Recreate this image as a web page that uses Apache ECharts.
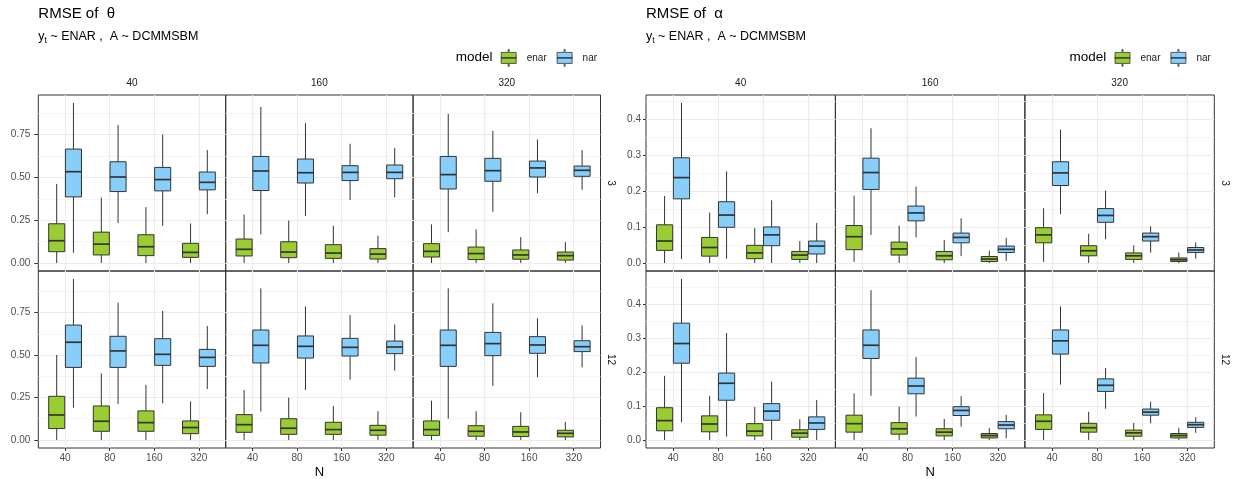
<!DOCTYPE html>
<html><head><meta charset="utf-8">
<script src="https://cdn.jsdelivr.net/npm/echarts@6/dist/echarts.min.js"></script>
<style>html,body{margin:0;padding:0;background:#fff}#c{width:1238px;height:479px}</style>
</head><body><div id="c"></div><script>
// ---------- categories & ticks ----------
const N_LABELS = ['40', '80', '160', '320'];
const N_POS = [1, 2, 3, 4];
const COL_FACETS = ['40', '160', '320'];
const ROW_FACETS = ['3', '12'];
const MODELS = ['enar', 'nar'];
const THETA_TICKS = [0, 0.25, 0.5, 0.75];
const THETA_TICK_LABELS = ['0.00', '0.25', '0.50', '0.75'];
const THETA_MINOR = [0.125, 0.375, 0.625, 0.875];
const ALPHA_TICKS = [0, 0.1, 0.2, 0.3, 0.4];
const ALPHA_TICK_LABELS = ['0.0', '0.1', '0.2', '0.3', '0.4'];
const ALPHA_MINOR = [0.05, 0.15, 0.25, 0.35, 0.45];

// ---------- data: [lower whisker, Q1, median, Q3, upper whisker] for N = 40, 80, 160, 320 ----------
// RMSE of theta, row facet 3
const theta_r3_c40_enar  = [[0,0.066,0.130,0.229,0.462],[0,0.047,0.110,0.180,0.382],[0,0.043,0.095,0.165,0.326],[0,0.033,0.062,0.115,0.231]];
const theta_r3_c40_nar   = [[0.060,0.386,0.533,0.665,0.934],[0.233,0.417,0.502,0.591,0.806],[0.217,0.421,0.487,0.558,0.750],[0.285,0.427,0.471,0.531,0.659]];
const theta_r3_c160_enar = [[0,0.041,0.080,0.140,0.283],[0,0.031,0.064,0.124,0.248],[0,0.027,0.058,0.107,0.217],[0,0.023,0.052,0.084,0.159]];
const theta_r3_c160_nar  = [[0.167,0.423,0.537,0.622,0.911],[0.275,0.467,0.527,0.607,0.816],[0.368,0.481,0.529,0.568,0.696],[0.384,0.492,0.529,0.572,0.671]];
const theta_r3_c320_enar = [[0,0.035,0.068,0.113,0.225],[0,0.020,0.055,0.093,0.196],[0,0.022,0.047,0.076,0.151],[0,0.017,0.043,0.064,0.122]];
const theta_r3_c320_nar  = [[0.180,0.432,0.516,0.622,0.870],[0.299,0.477,0.539,0.611,0.772],[0.407,0.502,0.555,0.595,0.721],[0.427,0.506,0.541,0.566,0.659]];
// RMSE of theta, row facet 12
const theta_r12_c40_enar  = [[0,0.067,0.147,0.257,0.500],[0,0.051,0.110,0.200,0.392],[0,0.051,0.102,0.171,0.324],[0,0.037,0.073,0.112,0.227]];
const theta_r12_c40_nar   = [[0.190,0.427,0.575,0.676,0.947],[0.212,0.427,0.524,0.610,0.808],[0.216,0.439,0.504,0.596,0.759],[0.300,0.433,0.486,0.533,0.671]];
const theta_r12_c160_enar = [[0,0.045,0.090,0.149,0.294],[0,0.033,0.069,0.125,0.249],[0,0.033,0.061,0.104,0.200],[0,0.028,0.057,0.086,0.169]];
const theta_r12_c160_nar  = [[0.167,0.453,0.557,0.647,0.892],[0.294,0.482,0.551,0.612,0.786],[0.355,0.494,0.545,0.598,0.735],[0.408,0.508,0.547,0.582,0.680]];
const theta_r12_c320_enar = [[0,0.027,0.061,0.112,0.231],[0,0.022,0.051,0.084,0.169],[0,0.020,0.047,0.080,0.163],[0,0.018,0.039,0.057,0.106]];
const theta_r12_c320_nar  = [[0.125,0.433,0.557,0.647,0.892],[0.318,0.496,0.567,0.633,0.804],[0.369,0.510,0.559,0.608,0.716],[0.427,0.520,0.549,0.584,0.675]];
// RMSE of alpha, row facet 3
const alpha_r3_c40_enar  = [[0,0.035,0.061,0.106,0.186],[0,0.019,0.043,0.071,0.140],[0,0.012,0.028,0.049,0.097],[0,0.010,0.022,0.032,0.061]];
const alpha_r3_c40_nar   = [[0.011,0.178,0.237,0.292,0.444],[0.012,0.099,0.133,0.170,0.254],[0,0.048,0.078,0.100,0.174],[0,0.025,0.047,0.061,0.111]];
const alpha_r3_c160_enar = [[0.003,0.037,0.073,0.104,0.187],[0,0.022,0.039,0.058,0.104],[0,0.009,0.020,0.032,0.064],[0,0.004,0.011,0.018,0.034]];
const alpha_r3_c160_nar  = [[0.078,0.204,0.251,0.291,0.374],[0.071,0.117,0.139,0.158,0.212],[0.019,0.056,0.071,0.083,0.124],[0.006,0.029,0.038,0.047,0.070]];
const alpha_r3_c320_enar = [[0.003,0.056,0.078,0.098,0.152],[0,0.020,0.034,0.048,0.081],[0,0.010,0.020,0.028,0.049],[0,0.004,0.009,0.014,0.029]];
const alpha_r3_c320_nar  = [[0.136,0.215,0.250,0.281,0.370],[0.066,0.113,0.132,0.151,0.201],[0.029,0.061,0.073,0.083,0.102],[0.012,0.029,0.036,0.043,0.057]];
// RMSE of alpha, row facet 12
const alpha_r12_c40_enar  = [[0,0.027,0.057,0.095,0.189],[0,0.024,0.047,0.071,0.130],[0,0.012,0.026,0.048,0.097],[0,0.008,0.020,0.030,0.061]];
const alpha_r12_c40_nar   = [[0.052,0.226,0.284,0.344,0.474],[0.010,0.117,0.167,0.197,0.315],[0,0.058,0.085,0.107,0.172],[0,0.031,0.050,0.068,0.118]];
const alpha_r12_c160_enar = [[0,0.023,0.048,0.073,0.137],[0,0.017,0.033,0.051,0.098],[0,0.012,0.023,0.033,0.062],[0,0.006,0.013,0.019,0.035]];
const alpha_r12_c160_nar  = [[0.130,0.240,0.279,0.324,0.441],[0.069,0.136,0.159,0.182,0.244],[0.039,0.072,0.087,0.098,0.129],[0.005,0.033,0.044,0.054,0.074]];
const alpha_r12_c320_enar = [[0,0.031,0.055,0.074,0.138],[0,0.023,0.036,0.049,0.083],[0,0.011,0.021,0.029,0.050],[0,0.006,0.013,0.019,0.035]];
const alpha_r12_c320_nar  = [[0.163,0.253,0.292,0.324,0.393],[0.092,0.143,0.161,0.180,0.212],[0.049,0.073,0.082,0.091,0.113],[0.021,0.037,0.045,0.052,0.067]];

// ---------- styling ----------
const FONT = '"Liberation Sans", Arial, Helvetica, sans-serif';
const ENAR = '#9ACD32', NAR = '#87CEFA', EDGE = '#333333';
const COLORS = { enar: ENAR, nar: NAR };
const GRID_MAJOR = '#ebebeb', GRID_MINOR = '#f3f3f3';
const DODGE = 0.1875, HALF = 0.18;
const KEY_ICON = 'path://M7.5,0H8.5V3H15.5V14H8.5V17H7.5V14H0.5V3H7.5Z M0.5,8.1H15.5V8.9H0.5Z';

const DATA = {
  theta: {
    '3':  { '40': {enar: theta_r3_c40_enar, nar: theta_r3_c40_nar}, '160': {enar: theta_r3_c160_enar, nar: theta_r3_c160_nar}, '320': {enar: theta_r3_c320_enar, nar: theta_r3_c320_nar} },
    '12': { '40': {enar: theta_r12_c40_enar, nar: theta_r12_c40_nar}, '160': {enar: theta_r12_c160_enar, nar: theta_r12_c160_nar}, '320': {enar: theta_r12_c320_enar, nar: theta_r12_c320_nar} }
  },
  alpha: {
    '3':  { '40': {enar: alpha_r3_c40_enar, nar: alpha_r3_c40_nar}, '160': {enar: alpha_r3_c160_enar, nar: alpha_r3_c160_nar}, '320': {enar: alpha_r3_c320_enar, nar: alpha_r3_c320_nar} },
    '12': { '40': {enar: alpha_r12_c40_enar, nar: alpha_r12_c40_nar}, '160': {enar: alpha_r12_c160_enar, nar: alpha_r12_c160_nar}, '320': {enar: alpha_r12_c320_enar, nar: alpha_r12_c320_nar} }
  }
};

const PANELS = [
  { key: 'theta', title: 'RMSE of  \u03B8', ticks: THETA_TICKS, labels: THETA_TICK_LABELS, minor: THETA_MINOR,
    lefts: [38.3, 225.7, 413.1], width: 187.4, labelMargin: 8, tickLen: 4 },
  { key: 'alpha', title: 'RMSE of  \u03B1', ticks: ALPHA_TICKS, labels: ALPHA_TICK_LABELS, minor: ALPHA_MINOR,
    lefts: [646, 835.5, 1025], width: 189.3, labelMargin: 5, tickLen: 3 }
];
const ROWS = [ { top: 95, height: 176 }, { top: 271, height: 177 } ];

function boxRenderer(side, fill) {
  return function (params, api) {
    const xc = api.value(0) + side * DODGE;
    const lo = api.value(1), q1 = api.value(2), md = api.value(3), q3 = api.value(4), hi = api.value(5);
    const a = api.coord([xc - HALF, q3]), b = api.coord([xc + HALF, q1]);
    const m1 = api.coord([xc - HALF, md]), m2 = api.coord([xc + HALF, md]);
    const t = api.coord([xc, hi]), bt = api.coord([xc, lo]);
    const cx = t[0];
    return { type: 'group', children: [
      { type: 'line', shape: { x1: cx, y1: t[1], x2: cx, y2: a[1] }, style: { stroke: EDGE, lineWidth: 1 } },
      { type: 'line', shape: { x1: cx, y1: b[1], x2: cx, y2: bt[1] }, style: { stroke: EDGE, lineWidth: 1 } },
      { type: 'rect', shape: { x: a[0], y: a[1], width: b[0] - a[0], height: b[1] - a[1] }, style: { fill: fill, stroke: EDGE, lineWidth: 1 } },
      { type: 'line', shape: { x1: m1[0], y1: m1[1], x2: m2[0], y2: m2[1] }, style: { stroke: EDGE, lineWidth: 1.7 } }
    ] };
  };
}

function labelFor(ticks, labels) {
  return function (v) {
    for (let i = 0; i < ticks.length; i++) if (Math.abs(ticks[i] - v) < 1e-9) return labels[i];
    return '';
  };
}

const grid = [], xAxis = [], yAxis = [], series = [], graphic = [], title = [], legend = [];

PANELS.forEach(function (P, pi) {
  const right = P.lefts[2] + P.width;
  ROW_FACETS.forEach(function (rowKey, ri) {
    // shared y range per row (ggplot free_y with 5% expansion)
    let ymin = Infinity, ymax = -Infinity;
    COL_FACETS.forEach(function (c) { MODELS.forEach(function (m) {
      DATA[P.key][rowKey][c][m].forEach(function (b) { ymin = Math.min(ymin, b[0]); ymax = Math.max(ymax, b[4]); });
    }); });
    const span = ymax - ymin;
    const yMin = ymin - 0.05 * span, yMax = ymax + 0.05 * span;
    const R = ROWS[ri];
    COL_FACETS.forEach(function (colKey, ci) {
      const g = grid.length;
      grid.push({ left: P.lefts[ci], top: R.top, width: P.width, height: R.height, show: true,
        borderColor: EDGE, borderWidth: 1, backgroundColor: 'transparent', outerBoundsMode: 'none', containLabel: false });
      const bottomRow = ri === ROW_FACETS.length - 1;
      xAxis.push({ type: 'value', gridIndex: g, min: 0.4, max: 4.6,
        axisLine: { show: false, onZero: false },
        axisTick: { show: bottomRow, length: 3, customValues: N_POS, lineStyle: { color: EDGE } },
        axisLabel: { show: bottomRow, customValues: N_POS, margin: 5, fontSize: 10, color: '#4d4d4d', fontFamily: FONT,
          formatter: labelFor(N_POS, N_LABELS) },
        splitLine: { show: true, lineStyle: { color: GRID_MAJOR, width: 1.1 } } });
      const firstCol = ci === 0;
      const minorVals = P.minor.filter(function (v) { return v > yMin && v < yMax; });
      yAxis.push({ type: 'value', gridIndex: g, min: yMin, max: yMax, position: 'left',
        axisLine: { show: false, onZero: false },
        axisTick: { show: firstCol, length: P.tickLen, customValues: P.ticks, lineStyle: { color: EDGE } },
        axisLabel: { show: firstCol, customValues: P.ticks, margin: P.labelMargin, fontSize: 10, color: '#4d4d4d', fontFamily: FONT,
          formatter: labelFor(P.ticks, P.labels) },
        splitLine: { show: true, lineStyle: { color: GRID_MAJOR, width: 1.1 } } });
      yAxis.push({ type: 'value', gridIndex: g, min: yMin, max: yMax, position: 'right',
        axisLine: { show: false, onZero: false },
        axisTick: { show: false, customValues: minorVals },
        axisLabel: { show: false, customValues: minorVals },
        splitLine: { show: true, lineStyle: { color: GRID_MINOR, width: 0.8 } } });
      MODELS.forEach(function (m, mi) {
        const arr = DATA[P.key][rowKey][colKey][m];
        series.push({ type: 'custom', name: m, xAxisIndex: g, yAxisIndex: 2 * g, z: 3, silent: true,
          itemStyle: { color: COLORS[m], borderColor: EDGE },
          renderItem: boxRenderer(mi === 0 ? -1 : 1, COLORS[m]),
          encode: { x: 0, y: [1, 2, 3, 4, 5] },
          data: arr.map(function (b, i) { return [N_POS[i]].concat(b); }) });
      });
      // column strip label (top)
      if (ri === 0) {
        graphic.push({ type: 'text', x: P.lefts[ci] + P.width / 2, y: 83, silent: true,
          style: { text: colKey, fontSize: 10, fill: '#1a1a1a', fontFamily: FONT, align: 'center', verticalAlign: 'middle' } });
      }
    });
    // row strip label (right, rotated)
    graphic.push({ type: 'text', x: right + 10.5, y: R.top + R.height / 2, rotation: -Math.PI / 2, silent: true,
      style: { text: rowKey, fontSize: 10, fill: '#1a1a1a', fontFamily: FONT, align: 'center', verticalAlign: 'middle' } });
  });

  // titles
  title.push({ text: P.title, left: P.lefts[0], top: 5, padding: 0, itemGap: 6,
    textStyle: { fontSize: 15, fontWeight: 'normal', color: '#000', fontFamily: FONT, lineHeight: 18 },
    subtext: '{a|y}{s|t}{a| ~ ENAR ,  A ~ DCMMSBM}',
    subtextStyle: { color: '#000', fontFamily: FONT, fontSize: 12.5, lineHeight: 16,
      rich: { a: { fontSize: 12.5, color: '#000', fontFamily: FONT, lineHeight: 16 },
              s: { fontSize: 8.5, color: '#000', fontFamily: FONT, lineHeight: 9, verticalAlign: 'bottom' } } } });

  // legend title and legend
  graphic.push({ type: 'text', x: right - 144.7, y: 57.5, silent: true,
    style: { text: 'model', fontSize: 13.5, fill: '#000', fontFamily: FONT, align: 'left', verticalAlign: 'middle' } });
  legend.push({ left: right - 99.7, top: 49, orient: 'horizontal', padding: 0, itemWidth: 16, itemHeight: 17, itemGap: 10,
    icon: KEY_ICON, selectedMode: false,
    itemStyle: { borderColor: EDGE, borderWidth: 0.8 },
    textStyle: { fontSize: 10, color: '#1a1a1a', fontFamily: FONT, padding: [0, 0, 0, 5] },
    data: MODELS.map(function (m) { return { name: m, itemStyle: { color: COLORS[m], borderColor: EDGE, borderWidth: 0.8 } }; }) });

  // x axis title
  graphic.push({ type: 'text', x: (P.lefts[0] + right) / 2, y: 472.5, silent: true,
    style: { text: 'N', fontSize: 13, fill: '#000', fontFamily: FONT, align: 'center', verticalAlign: 'middle' } });
});

const chart = echarts.init(document.getElementById('c'), null, { renderer: 'canvas' });
chart.setOption({
  backgroundColor: '#ffffff',
  animation: false,
  title: title,
  legend: legend,
  grid: grid,
  xAxis: xAxis,
  yAxis: yAxis,
  series: series,
  graphic: graphic
});
</script></body></html>
